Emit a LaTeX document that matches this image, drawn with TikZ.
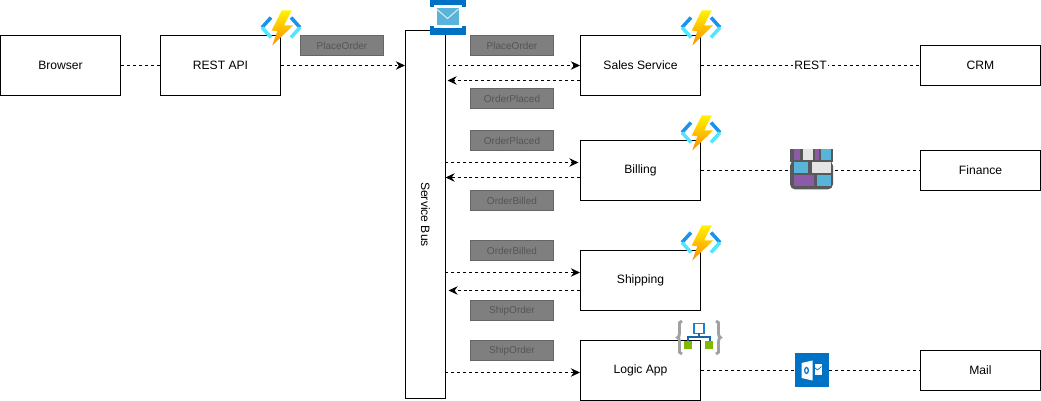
\documentclass[tikz,border=0pt]{standalone}
\usepackage{fontspec}
\usepackage{xcolor}
\setmainfont{Liberation Sans}
\usetikzlibrary{arrows.meta}

\definecolor{tagfill}{HTML}{7F7F7F}
\definecolor{tagline}{HTML}{666666}
\definecolor{tagtext}{HTML}{555555}
\definecolor{azdark}{HTML}{1B93EB}
\definecolor{azlight}{HTML}{50E6FF}
\definecolor{busblue}{HTML}{0072C6}
\definecolor{envblue}{HTML}{59B4D9}
\definecolor{wallgrey}{HTML}{59595C}
\definecolor{wallpurple}{HTML}{8C5AA6}
\definecolor{leafgreen}{HTML}{7FBA00}
\definecolor{bracegrey}{HTML}{A0A1A2}
\definecolor{linkblue}{HTML}{1A7FD0}

\tikzset{
    funcicon/.pic={
        \draw[azdark, line width=2pt] (-10,-10) -- (-19,0);
        \draw[azlight, line width=2pt] (-19,0) -- (-10,10);
        \draw[azdark, line width=2pt] (10,-10) -- (19,0);
        \draw[azlight, line width=2pt] (19,0) -- (10,10);
        \shade[top color=yellow!90!orange, bottom color=orange!90!yellow]
            (0.7,-17) -- (10.7,-17) -- (3,-2) -- (12,-2) -- (-8.7,18) -- (-3.7,3.7) -- (-9.3,3) -- cycle;
    },
    busicon/.pic={
        \fill[busblue] (-18,-17.5) rectangle (18,-12.5);
        \fill[busblue] (-18,-12.5) rectangle (-14,-10.5);
        \fill[busblue] (14,-12.5) rectangle (18,-10.5);
        \fill[busblue] (-18,10.5) rectangle (18,17.5);
        \fill[busblue] (-18,8.5) rectangle (-14,10.5);
        \fill[busblue] (14,8.5) rectangle (18,10.5);
        \fill[envblue] (-11,-9) rectangle (11,7.5);
        \draw[white!75!envblue, line width=0.6pt] (-11,-8.5) -- (0,1) -- (11,-8.5);
    },
    wallicon/.pic={
        \fill[wallgrey, rounded corners=3pt] (-21.5,-10) -- (-21.5,19) -- (21.5,19) -- (21.5,-10) -- cycle;
        \fill[wallgrey] (-21.5,-21) rectangle (21.5,-8);
        \fill[wallpurple] (-18,-21) rectangle (-12,-10);
        \fill[white!90!black] (-9,-21) rectangle (1,-10);
        \fill[wallpurple] (3,-21) rectangle (7,-10);
        \fill[envblue] (9,-21) rectangle (19,-10);
        \fill[envblue] (-18,-8) rectangle (-4,3);
        \fill[white!90!black] (0,-8) rectangle (19,3);
        \fill[wallpurple] (-18,5) rectangle (2,16);
        \fill[envblue] (5,5) rectangle (19,16);
    },
    logicicon/.pic={
        \draw[bracegrey, line width=1.6pt] (-17,-16.5) .. controls (-20,-16.5) and (-19.5,-14) .. (-19.5,-11) -- (-19.5,-4) .. controls (-19.5,-1.5) and (-20.5,0) .. (-21.5,0) .. controls (-20.5,0) and (-19.5,1.5) .. (-19.5,4) -- (-19.5,11) .. controls (-19.5,14) and (-20,16.5) .. (-17,16.5);
        \draw[bracegrey, line width=1.6pt] (17,-16.5) .. controls (20,-16.5) and (19.5,-14) .. (19.5,-11) -- (19.5,-4) .. controls (19.5,-1.5) and (20.5,0) .. (21.5,0) .. controls (20.5,0) and (19.5,1.5) .. (19.5,4) -- (19.5,11) .. controls (19.5,14) and (20,16.5) .. (17,16.5);
        \draw[linkblue, line width=1.1pt, fill=white] (-5,-14) rectangle (5,-4);
        \draw[linkblue!80!black, line width=1.2pt] (0,-4) -- (0,-0.5) (-11,5) -- (-11,-0.5) -- (11,-0.5) -- (11,5);
        \fill[leafgreen] (-15,4) rectangle (-7,12);
        \fill[leafgreen] (6,4) rectangle (14,12);
    },
    outlookicon/.pic={
        \fill[busblue] (-17,-17) rectangle (17,17);
        \fill[white] (-10,-7.5) -- (1,-10) -- (1,10) -- (-10,7.5) -- cycle;
        \fill[white] (3,-6) rectangle (10,5);
        \draw[busblue, line width=0.4pt] (3,-3) -- (6,-0.5) -- (10,-4);
        \draw[busblue, line width=0.7pt] (-5,0) ellipse (1.8 and 3);
    },
}

\begin{document}
\begin{tikzpicture}[x=0.02cm, y=-0.02cm, >=stealth, line width=0.58pt,
        box/.style={draw, fill=white, minimum width=2.4cm, minimum height=1.2cm, inner sep=0pt, font=\fontsize{6.9}{8}\selectfont},
        smallbox/.style={box, minimum height=0.8cm},
        tag/.style={draw=tagline, fill=tagfill, text=tagtext, minimum width=1.66cm, minimum height=0.4cm, inner sep=0pt, font=\fontsize{5.7}{7}\selectfont},
        link/.style={dash pattern=on 1.7pt off 1.7pt},
        arr/.style={link, -{Stealth[length=5.2pt, width=4.8pt]}},
    ]
    \useasboundingbox (-0.5,0.5) rectangle (1040.5,401.5);

    % Left side
    \node[box] (browser) at (60, 66) {Browser};
    \node[box] (rest) at (220, 66) {REST API};

    % Bus
    \node[draw, fill=white, minimum width=0.8cm, minimum height=7.36cm, inner sep=0pt] (bus) at (425, 215) {};
    \node[rotate=-90, font=\fontsize{6.9}{8}\selectfont] (buslabel) at (bus.center) {Service Bus};

    % Services
    \node[box] (sales) at (640, 66) {Sales Service};
    \node[box] (billing) at (640, 171) {Billing};
    \node[box] (shipping) at (640, 281) {Shipping};
    \node[box] (logic) at (640, 371) {Logic App};

    % External systems
    \node[smallbox] (crm) at (980, 66) {CRM};
    \node[smallbox] (finance) at (980, 171) {Finance};
    \node[smallbox] (mail) at (980, 371) {Mail};

    % Message tags
    \node[tag] (t1) at (341.5, 46) {PlaceOrder};
    \node[tag] (t2) at (511.5, 46) {PlaceOrder};
    \node[tag] (t3) at (511.5, 99) {OrderPlaced};
    \node[tag] (t4) at (511.5, 141) {OrderPlaced};
    \node[tag] (t5) at (511.5, 201) {OrderBilled};
    \node[tag] (t6) at (511.5, 251) {OrderBilled};
    \node[tag] (t7) at (511.5, 311) {ShipOrder};
    \node[tag] (t8) at (511.5, 351) {ShipOrder};

    % Free ends by the bus
    \coordinate (busa) at (447, 66);
    \coordinate (busb) at (447, 81);
    \coordinate (busc) at (445, 163);
    \coordinate (busd) at (445, 178);
    \coordinate (buse) at (445, 273);
    \coordinate (busf) at (448, 291);
    \coordinate (busg) at (445, 373);
    \coordinate (bille) at (578, 163);
    \coordinate (wallpos) at (811, 171);
    \coordinate (outpos) at (811, 371);

    % Arrows
    \draw[link] (browser) -- (rest);
    \draw[arr] (rest.east) -- (bus.west |- rest.east);
    \draw[arr] (busa) -- (busa -| sales.west);
    \draw[arr] (busb -| sales.west) -- (busb);
    \draw[arr] (busc) -- (bille);
    \draw[arr] (busd -| billing.west) -- (busd);
    \draw[arr] (buse) -- (buse -| shipping.west);
    \draw[arr] (busf -| shipping.west) -- (busf);
    \draw[arr] (busg) -- (busg -| logic.west);

    \draw[link] (sales.east) -- (crm.west) node[midway, fill=white, inner sep=1pt, font=\fontsize{6.9}{8}\selectfont] {REST};
    \draw[link] (billing.east) -- (wallpos);
    \draw[link] (wallpos) -- (finance.west);
    \draw[link] (logic.east) -- (outpos);
    \draw[link] (outpos) -- (mail.west);

    % Icons
    \pic at (280.5, 28) {funcicon};
    \pic at (700.5, 28) {funcicon};
    \pic at (700.5, 133) {funcicon};
    \pic at (700.5, 243) {funcicon};
    \pic at (447, 18) {busicon};
    \pic at (wallpos) {wallicon};
    \pic at (698.5, 338) {logicicon};
    \pic at (outpos) {outlookicon};
\end{tikzpicture}
\end{document}
